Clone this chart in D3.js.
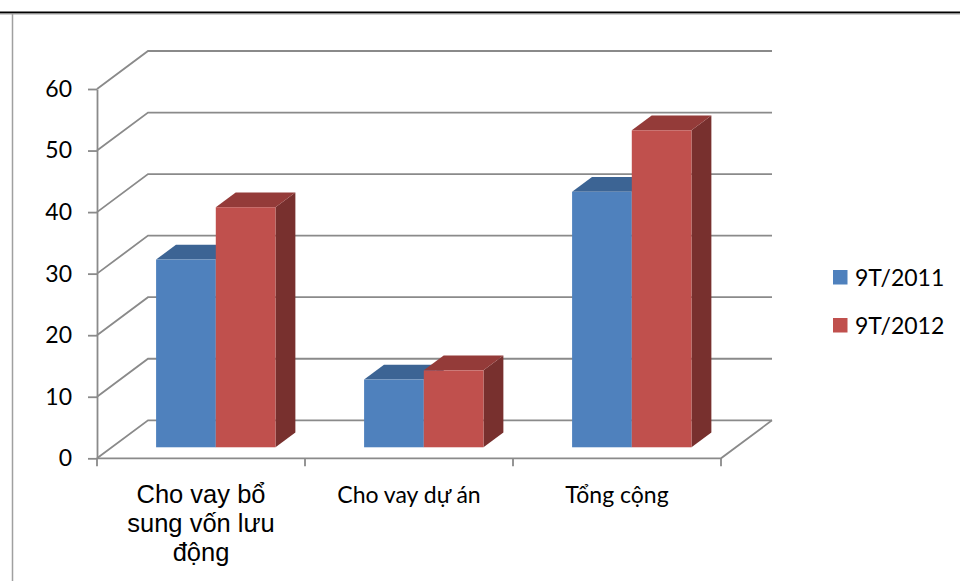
<!DOCTYPE html>
<html>
<head>
<meta charset="utf-8">
<script src="https://cdn.jsdelivr.net/npm/d3@7/dist/d3.min.js"></script>
<style>
  html, body { margin: 0; padding: 0; background: #fff; }
  svg { display: block; }
</style>
</head>
<body>
<svg id="chart" width="960" height="581"></svg>
<script>
// Loan structure, first nine months of 2011 vs 2012
const categories = ["Cho vay bổ sung vốn lưu động", "Cho vay dự án", "Tổng cộng"];
const categoryLines = [["Cho vay bổ", "sung vốn lưu", "động"], ["Cho vay dự án"], ["Tổng cộng"]];
const seriesNames = ["9T/2011", "9T/2012"];
const values2011 = [30.5, 11, 41.5];
const values2012 = [39, 12.5, 51.5];
const yTicks = [0, 10, 20, 30, 40, 50, 60];

const colors = {
  "9T/2011": { front: "#4F81BD", top: "#3C6494", side: "#34577F" },
  "9T/2012": { front: "#C0504D", top: "#943B39", side: "#78302E" }
};

const svg = d3.select("#chart");

// Plot area, front plane
const x = d3.scaleBand().domain(categories).range([97, 721]).paddingInner(0).paddingOuter(0);
const y = d3.scaleLinear().domain([0, 60]).range([458.3, 89]);

// Oblique depth projection: d in [0,1] goes from front to back wall
const DX = 51, DY = -38;
const P = (px, py, d) => [px + d * DX, py + d * DY];

const gridColor = "#8a8a8a";
const gridWidth = 1.8;

// Frame edges
svg.append("rect").attr("x", 0).attr("y", 11.5).attr("width", 960).attr("height", 2).attr("fill", "#000");
svg.append("rect").attr("x", 0).attr("y", 13.5).attr("width", 960).attr("height", 1).attr("fill", "#a0a0a0");
svg.append("line").attr("x1", 12.5).attr("x2", 12.5).attr("y1", 14).attr("y2", 581)
  .attr("stroke", "#a0a0a0").attr("stroke-width", 1.5);

const grid = svg.append("g").attr("fill", "none").attr("stroke", gridColor).attr("stroke-width", gridWidth);

// Side wall diagonals and back wall gridlines
const x0 = x.range()[0], x1 = x.range()[1];
yTicks.forEach(t => {
  const a = P(x0, y(t), 0), b = P(x0, y(t), 1), c = P(x1, y(t), 1);
  grid.append("path").attr("d", d3.line()([a, b, c]));
});

// Floor: right edge and front edge
grid.append("path").attr("d", d3.line()([P(x0, y(0), 0), P(x1, y(0), 0), P(x1, y(0), 1)]));

// Value axis
const yAxis = d3.axisLeft(y).tickValues(yTicks).tickSizeInner(9).tickSizeOuter(0).tickPadding(16);
const ya = svg.append("g").attr("transform", `translate(${x0},0)`).call(yAxis);
ya.select(".domain").attr("stroke", gridColor).attr("stroke-width", gridWidth);
ya.selectAll(".tick line").attr("stroke", gridColor).attr("stroke-width", gridWidth);
ya.selectAll(".tick text")
  .attr("font-family", "Lato, sans-serif").attr("font-size", 23).attr("fill", "#000");

// Category boundary ticks below the floor
const bounds = categories.map(c => x(c)).concat([x1]);
grid.selectAll("line.ctick").data(bounds).enter().append("line")
  .attr("class", "ctick")
  .attr("x1", d => d).attr("x2", d => d)
  .attr("y1", y(0)).attr("y2", y(0) + 8);

// Bars
const dFront = 0.29, dBack = 0.68;
const groupFrac = 0.574;
const xs = d3.scaleBand().domain(seriesNames)
  .range([0, x.bandwidth() * groupFrac]);
const groupOffset = (x.bandwidth() - x.bandwidth() * groupFrac) / 2;

const rows = [];
categories.forEach((c, i) => {
  rows.push({ cat: c, series: "9T/2011", value: values2011[i] });
  rows.push({ cat: c, series: "9T/2012", value: values2012[i] });
});

const bars = svg.append("g");
rows.forEach(r => {
  const bx0 = x(r.cat) + groupOffset + xs(r.series);
  const bx1 = bx0 + xs.bandwidth();
  const yb = y(0), yt = y(r.value);
  const col = colors[r.series];
  const g = bars.append("g");
  // side face
  g.append("path")
    .attr("d", d3.line()([P(bx1, yb, dFront), P(bx1, yt, dFront), P(bx1, yt, dBack), P(bx1, yb, dBack)]) + "Z")
    .attr("fill", col.side);
  // top face
  g.append("path")
    .attr("d", d3.line()([P(bx0, yt, dFront), P(bx1, yt, dFront), P(bx1, yt, dBack), P(bx0, yt, dBack)]) + "Z")
    .attr("fill", col.top);
  // front face
  const f0 = P(bx0, yt, dFront), f1 = P(bx1, yb, dFront);
  g.append("rect")
    .attr("x", f0[0]).attr("y", f0[1])
    .attr("width", f1[0] - f0[0]).attr("height", f1[1] - f0[1])
    .attr("fill", col.front);
});

// Category labels
const labels = svg.append("g").attr("text-anchor", "middle").attr("fill", "#000");
categories.forEach((c, i) => {
  const cx = x(c) + x.bandwidth() / 2;
  const lines = categoryLines[i];
  const t = labels.append("text")
    .attr("font-family", i === 0 ? "'Liberation Sans', Arial, sans-serif" : "Lato, sans-serif")
    .attr("font-size", i === 0 ? 25.5 : 23);
  lines.forEach((ln, k) => {
    t.append("tspan").attr("x", cx).attr("y", 503 + k * 29).text(ln);
  });
});

// Legend
const legend = svg.append("g");
seriesNames.forEach((s, i) => {
  const ly = 270 + i * 48;
  legend.append("rect").attr("x", 833).attr("y", ly).attr("width", 14.5).attr("height", 14.5)
    .attr("fill", colors[s].front);
  legend.append("text").attr("x", 855).attr("y", ly + 15.5)
    .attr("font-family", "Lato, sans-serif").attr("font-size", 23).attr("fill", "#000")
    .text(s);
});
</script>
</body>
</html>
